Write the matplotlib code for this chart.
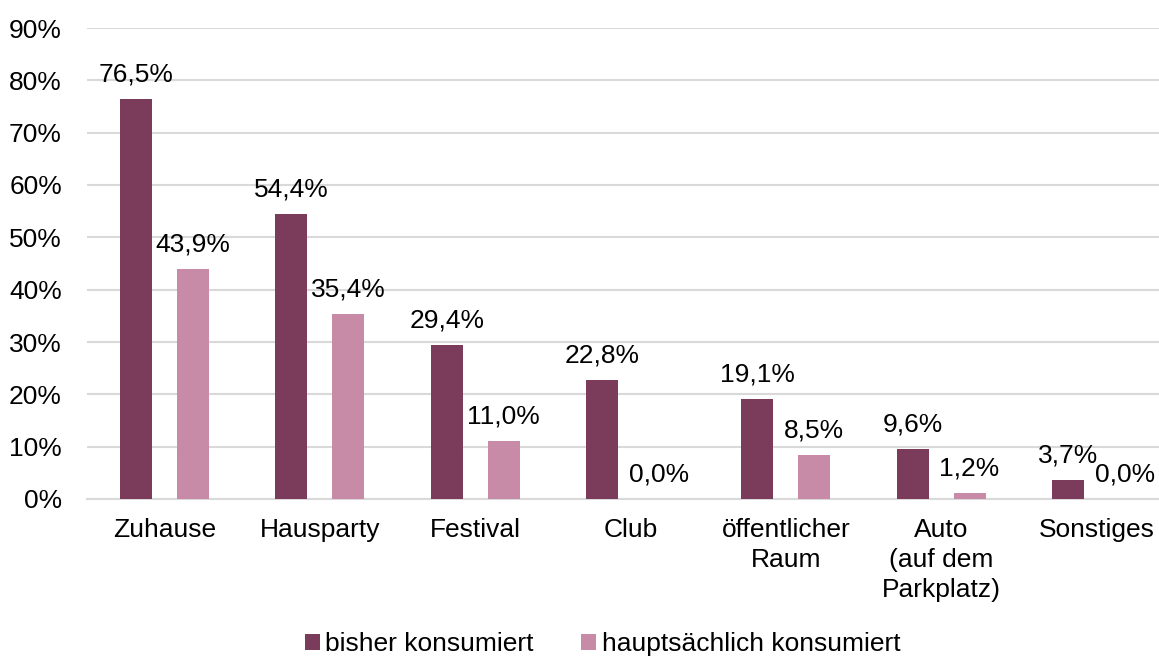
import numpy as np
import matplotlib.pyplot as plt
from matplotlib.ticker import FuncFormatter

plt.rcParams["font.family"] = ["Liberation Sans", "DejaVu Sans"]

categories = ["Zuhause", "Hausparty", "Festival", "Club",
              "öffentlicher\nRaum", "Auto\n(auf dem\nParkplatz)", "Sonstiges"]
bisher = [76.5, 54.4, 29.4, 22.8, 19.1, 9.6, 3.7]
hauptsaechlich = [43.9, 35.4, 11.0, 0.0, 8.5, 1.2, 0.0]
series_names = ["bisher konsumiert", "hauptsächlich konsumiert"]

dark = "#7B3B5A"
light = "#C78BA8"

fig = plt.figure(figsize=(11.59, 6.57), dpi=100)
ax = fig.add_axes([87 / 1159, (657 - 499) / 657, (1159 - 87) / 1159, (499 - 28) / 657])

x = np.arange(len(categories))
w = 0.206
off = 0.1835
b1 = ax.bar(x - off, bisher, w, color=dark, label=series_names[0], zorder=3)
b2 = ax.bar(x + off, hauptsaechlich, w, color=light, label=series_names[1], zorder=3)

for bars in (b1, b2):
    ax.bar_label(bars, labels=[f"{v:.1f}%".replace(".", ",") for v in bars.datavalues],
                 padding=9, fontsize=19)

ax.set_ylim(0, 90)
ax.set_yticks(range(0, 91, 10))
ax.yaxis.set_major_formatter(FuncFormatter(lambda v, p: f"{v:.0f}%"))
ax.set_xlim(-0.5, 6.5 - 15 / 155.3)
ax.set_xticks(x)
ax.set_xticklabels(categories, linespacing=1.3)
ax.tick_params(axis="both", length=0, labelsize=19)
ax.tick_params(axis="x", pad=14)
ax.tick_params(axis="y", pad=18)

ax.grid(axis="y", color="#D9D9D9", linewidth=1.5, zorder=0)
for s in ["top", "right", "left"]:
    ax.spines[s].set_visible(False)
ax.spines["bottom"].set_color("#D9D9D9")
ax.spines["bottom"].set_linewidth(1.5)

fig.legend(loc="center", bbox_to_anchor=(0.52, 13 / 657), ncol=2, frameon=False,
           borderpad=0, fontsize=19, handlelength=0.57, handleheight=0.57,
           handletextpad=0.2, columnspacing=1.8)

fig.savefig("out.png", dpi=100)
